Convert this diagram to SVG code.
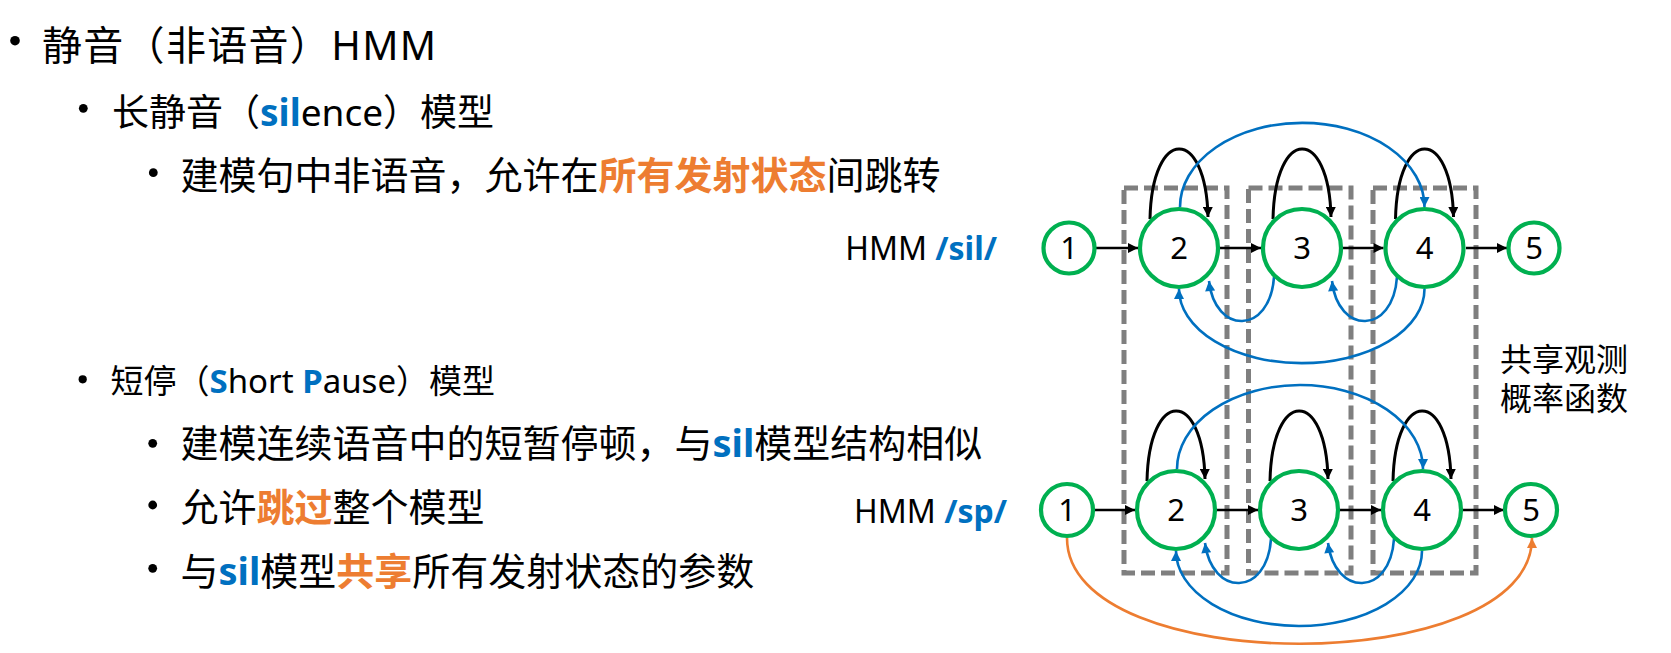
<svg xmlns="http://www.w3.org/2000/svg" width="1671" height="653" viewBox="0 0 1671 653">
  <style>
    .t { font-family: "Noto Sans", "Noto Sans CJK SC", sans-serif; fill: #000; }
    .b { fill: #0070C0; font-weight: bold; }
    .o { fill: #ED7D31; font-weight: bold; }
    .bullet { fill: #000; }
    .state { fill: #fff; stroke: #00B050; stroke-width: 4.2; }
    .num { font-family: "Noto Sans", "Liberation Sans", sans-serif; font-size: 31px; text-anchor: middle; fill: #000; }
    .group-box { fill: none; stroke: #7F7F7F; stroke-width: 5; stroke-dasharray: 14 6; }
    .fwd { fill: none; stroke: #000; stroke-width: 2.5; marker-end: url(#arrowBlack); }
    .self { fill: none; stroke: #000; stroke-width: 3; marker-end: url(#arrowBlack); }
    .skip { fill: none; stroke: #0070C0; stroke-width: 2.6; marker-end: url(#arrowBlue); }
    .bypass { fill: none; stroke: #ED7D31; stroke-width: 2.6; marker-end: url(#arrowOrange); }
  </style>
  <defs>
    <marker id="arrowBlack" viewBox="0 0 10 10" refX="10" refY="5" markerWidth="11" markerHeight="10" markerUnits="userSpaceOnUse" orient="auto">
      <path d="M0,0 L10,5 L0,10 z" fill="#000"/>
    </marker>
    <marker id="arrowBlue" viewBox="0 0 10 10" refX="10" refY="5" markerWidth="11" markerHeight="10" markerUnits="userSpaceOnUse" orient="auto">
      <path d="M0,0 L10,5 L0,10 z" fill="#0070C0"/>
    </marker>
    <marker id="arrowOrange" viewBox="0 0 10 10" refX="10" refY="5" markerWidth="11" markerHeight="10" markerUnits="userSpaceOnUse" orient="auto">
      <path d="M0,0 L10,5 L0,10 z" fill="#ED7D31"/>
    </marker>
  </defs>

  <rect width="1671" height="653" fill="#fff"/>

  <!-- bullet list -->
  <g id="bullets">
    <circle class="bullet" cx="15" cy="40.7" r="4.8"/>
    <text class="t" x="42" y="60" font-size="40" textLength="394" lengthAdjust="spacing">静音（非语音）HMM</text>

    <circle class="bullet" cx="83.3" cy="108.3" r="4.4"/>
    <text class="t" x="112" y="125.5" font-size="37">长静音（<tspan class="b">sil</tspan>ence）模型</text>

    <circle class="bullet" cx="153.3" cy="172.7" r="4.4"/>
    <text class="t" x="180.5" y="189" font-size="38">建模句中非语音，允许在<tspan class="o">所有发射状态</tspan>间跳转</text>

    <circle class="bullet" cx="82.7" cy="379.3" r="4.1"/>
    <text class="t" x="110.5" y="392.5" font-size="33">短停（<tspan class="b">S</tspan>hort <tspan class="b">P</tspan>ause）模型</text>

    <circle class="bullet" cx="152.7" cy="443.3" r="4.4"/>
    <text class="t" x="180.5" y="457" font-size="38">建模连续语音中的短暂停顿，与<tspan class="b">sil</tspan>模型结构相似</text>

    <circle class="bullet" cx="152.7" cy="505" r="4.4"/>
    <text class="t" x="180.5" y="520.5" font-size="38">允许<tspan class="o">跳过</tspan>整个模型</text>

    <circle class="bullet" cx="152.7" cy="568.3" r="4.4"/>
    <text class="t" x="180.5" y="585" font-size="38">与<tspan class="b">sil</tspan>模型<tspan class="o">共享</tspan>所有发射状态的参数</text>
  </g>

  <!-- model labels -->
  <text class="t" x="997" y="260" font-size="32" text-anchor="end">HMM <tspan class="b">/sil/</tspan></text>
  <text class="t" x="1007" y="522.5" font-size="32" text-anchor="end">HMM <tspan class="b">/sp/</tspan></text>
  <text class="t" x="1500" y="371" font-size="32">共享观测</text>
  <text class="t" x="1500" y="410" font-size="32">概率函数</text>

  <!-- shared emitting-state boxes -->
  <g id="shared-boxes">
    <rect class="group-box" x="1124" y="188" width="103" height="385"/>
    <rect class="group-box" x="1248.5" y="188" width="102.5" height="385"/>
    <rect class="group-box" x="1373" y="188" width="103" height="385"/>
  </g>

  <!-- transitions -->
  <g id="connectors">
    <!-- sil: forward -->
    <line class="fwd" x1="1096" y1="248" x2="1138" y2="248"/>
    <line class="fwd" x1="1220" y1="248" x2="1261" y2="248"/>
    <line class="fwd" x1="1343" y1="248" x2="1383.5" y2="248"/>
    <line class="fwd" x1="1466" y1="248" x2="1507" y2="248"/>
    <!-- sil: self loops -->
    <path class="self" d="M1150,219 C1152,126 1206,126 1208,217"/>
    <path class="self" d="M1273,219 C1275,126 1329,126 1331,217"/>
    <path class="self" d="M1395.5,219 C1397.5,126 1451.5,126 1453.5,217"/>
    <!-- sil: skips -->
    <path class="skip" d="M1180,207 A122 84 0 0 1 1424.5,207"/>
    <path class="skip" d="M1274,277 C1270,335 1215,335 1209,281"/>
    <path class="skip" d="M1397,277 C1393,335 1338,335 1332,281"/>
    <path class="skip" d="M1424.5,289 A122.5 74 0 0 1 1179,289"/>

    <!-- sp: forward -->
    <line class="fwd" x1="1094" y1="510" x2="1135" y2="510"/>
    <line class="fwd" x1="1217" y1="510" x2="1258" y2="510"/>
    <line class="fwd" x1="1340" y1="510" x2="1381" y2="510"/>
    <line class="fwd" x1="1463" y1="510" x2="1504" y2="510"/>
    <!-- sp: self loops -->
    <path class="self" d="M1147,481 C1149,388 1203,388 1205,479"/>
    <path class="self" d="M1270,481 C1272,388 1326,388 1328,479"/>
    <path class="self" d="M1393,481 C1395,388 1449,388 1451,479"/>
    <!-- sp: skips -->
    <path class="skip" d="M1177,469 A123 84 0 0 1 1423,469"/>
    <path class="skip" d="M1271,539 C1267,597 1212,597 1205,543"/>
    <path class="skip" d="M1394,539 C1390,597 1335,597 1328,543"/>
    <path class="skip" d="M1422,551 A123 75 0 0 1 1176,551"/>
    <!-- sp: tee transition over the whole model -->
    <path class="bypass" d="M1067,538 C1067,679 1532,679 1532,538"/>
  </g>

  <!-- sil states -->
  <g id="sil-1"><circle class="state" cx="1069" cy="248" r="25.5"/><text class="num" x="1069" y="259">1</text></g>
  <g id="sil-2"><circle class="state" cx="1179" cy="248" r="39"/><text class="num" x="1179" y="259">2</text></g>
  <g id="sil-3"><circle class="state" cx="1302" cy="248" r="39"/><text class="num" x="1302" y="259">3</text></g>
  <g id="sil-4"><circle class="state" cx="1424.5" cy="248" r="39"/><text class="num" x="1424.5" y="259">4</text></g>
  <g id="sil-5"><circle class="state" cx="1534" cy="248" r="25.5"/><text class="num" x="1534" y="259">5</text></g>

  <!-- sp states -->
  <g id="sp-1"><circle class="state" cx="1067" cy="510" r="26"/><text class="num" x="1067" y="521">1</text></g>
  <g id="sp-2"><circle class="state" cx="1176" cy="510" r="39"/><text class="num" x="1176" y="521">2</text></g>
  <g id="sp-3"><circle class="state" cx="1299" cy="510" r="39"/><text class="num" x="1299" y="521">3</text></g>
  <g id="sp-4"><circle class="state" cx="1422" cy="510" r="39"/><text class="num" x="1422" y="521">4</text></g>
  <g id="sp-5"><circle class="state" cx="1531" cy="510" r="26"/><text class="num" x="1531" y="521">5</text></g>
</svg>
